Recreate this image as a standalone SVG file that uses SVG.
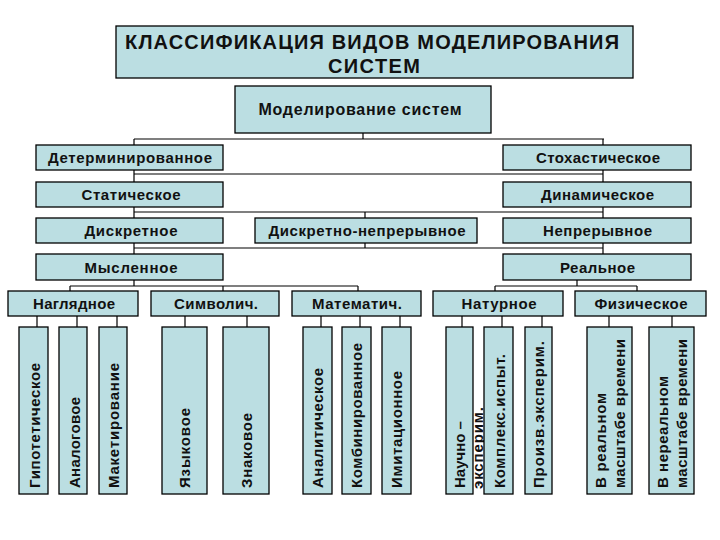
<svg xmlns="http://www.w3.org/2000/svg" width="720" height="540" viewBox="0 0 720 540">
<style>
.bg{fill:#ffffff}
.box{fill:#BBDEE2;stroke:#000;stroke-width:1.3}
.t{font-family:"Liberation Sans",Arial,sans-serif;font-weight:bold;font-size:15px;fill:#111;text-anchor:middle}
.v{font-family:"Liberation Sans",Arial,sans-serif;font-weight:bold;font-size:15px;fill:#111;text-anchor:start}
.ttl{font-size:20px}
.root{font-size:16px}
.conn path{fill:none;stroke:#000;stroke-width:1.2}
</style>
<rect class="bg" x="0" y="0" width="720" height="540"/>
<g class="conn" id="connectors">
<path d="M363,133V139M134,139H604M134,139V145M603,139V145"/>
<path d="M134,170V182M603,170V182M134,174H603"/>
<path d="M134,207V218M603,207V218M134,212H603M365,212V218"/>
<path d="M134,243V254M603,243V254M134,248H603M365,243V248"/>
<path d="M134,280V286M70,286H358M70,286V291M223,286V291M358,286V291"/>
<path d="M577,280V286M495,286H637M495,286V291M637,286V291"/>
<path d="M37,316V327M77,316V327M117,316V327M185,316V327M247,316V327M321,316V327M360,316V327M400,316V327M462,316V327M502,316V327M542,316V327M609,316V327M672,316V327"/>
</g>
<g id="title">
<rect class="box" x="116" y="26" width="517" height="52"/>
<text class="t ttl" x="372" y="49" textLength="494" lengthAdjust="spacing">КЛАССИФИКАЦИЯ ВИДОВ МОДЕЛИРОВАНИЯ</text>
<text class="t ttl" x="374" y="73" textLength="92" lengthAdjust="spacing">СИСТЕМ</text>
</g>
<g id="root">
<rect class="box" x="235" y="86" width="256" height="47"/>
<text class="t root" x="360" y="115" textLength="203" lengthAdjust="spacing">Моделирование систем</text>
</g>
<g id="det"><rect class="box" x="36" y="145" width="187" height="25"/><text class="t" x="130" y="163" textLength="164" lengthAdjust="spacing">Детерминированное</text></g>
<g id="stoch"><rect class="box" x="503" y="145" width="188" height="25"/><text class="t" x="598" y="163" textLength="124" lengthAdjust="spacing">Стохастическое</text></g>
<g id="static"><rect class="box" x="36" y="182" width="187" height="25"/><text class="t" x="131" y="200" textLength="99" lengthAdjust="spacing">Статическое</text></g>
<g id="dyn"><rect class="box" x="503" y="182" width="188" height="25"/><text class="t" x="597.5" y="200" textLength="113" lengthAdjust="spacing">Динамическое</text></g>
<g id="disc"><rect class="box" x="36" y="218" width="187" height="25"/><text class="t" x="131" y="236" textLength="93" lengthAdjust="spacing">Дискретное</text></g>
<g id="disccont"><rect class="box" x="255" y="218" width="222" height="25"/><text class="t" x="367" y="236" textLength="197" lengthAdjust="spacing">Дискретно-непрерывное</text></g>
<g id="cont"><rect class="box" x="503" y="218" width="188" height="25"/><text class="t" x="597.5" y="236" textLength="109" lengthAdjust="spacing">Непрерывное</text></g>
<g id="mental"><rect class="box" x="36" y="254" width="187" height="26"/><text class="t" x="131" y="272.5" textLength="93" lengthAdjust="spacing">Мысленное</text></g>
<g id="real"><rect class="box" x="503" y="254" width="188" height="26"/><text class="t" x="597.5" y="272.5" textLength="75" lengthAdjust="spacing">Реальное</text></g>
<g id="nagl"><rect class="box" x="8" y="291" width="130" height="25"/><text class="t" x="74" y="309" textLength="82" lengthAdjust="spacing">Наглядное</text></g>
<g id="symb"><rect class="box" x="151" y="291" width="128" height="25"/><text class="t" x="216" y="309" textLength="84" lengthAdjust="spacing">Символич.</text></g>
<g id="math"><rect class="box" x="292" y="291" width="129" height="25"/><text class="t" x="357" y="309" textLength="90" lengthAdjust="spacing">Математич.</text></g>
<g id="nat"><rect class="box" x="433" y="291" width="130" height="25"/><text class="t" x="499" y="309" textLength="75" lengthAdjust="spacing">Натурное</text></g>
<g id="phys"><rect class="box" x="575" y="291" width="131" height="25"/><text class="t" x="641" y="309" textLength="93" lengthAdjust="spacing">Физическое</text></g>
<g id="hyp"><rect class="box" x="19" y="327" width="29" height="167"/><text class="v" transform="translate(40,488) rotate(-90)" textLength="125" lengthAdjust="spacing">Гипотетическое</text></g>
<g id="anal"><rect class="box" x="59" y="327" width="28" height="167"/><text class="v" transform="translate(79.5,488) rotate(-90)" textLength="91" lengthAdjust="spacing">Аналоговое</text></g>
<g id="maket"><rect class="box" x="99" y="327" width="28" height="167"/><text class="v" transform="translate(119,488) rotate(-90)" textLength="125" lengthAdjust="spacing">Макетирование</text></g>
<g id="lang"><rect class="box" x="162" y="327" width="45" height="167"/><text class="v" transform="translate(190,488) rotate(-90)" textLength="80" lengthAdjust="spacing">Языковое</text></g>
<g id="sign"><rect class="box" x="223" y="327" width="46" height="167"/><text class="v" transform="translate(251.5,488) rotate(-90)" textLength="75" lengthAdjust="spacing">Знаковое</text></g>
<g id="analyt"><rect class="box" x="303" y="327" width="29" height="167"/><text class="v" transform="translate(323,488) rotate(-90)" textLength="120" lengthAdjust="spacing">Аналитическое</text></g>
<g id="comb"><rect class="box" x="342" y="327" width="29" height="167"/><text class="v" transform="translate(362,488) rotate(-90)" textLength="145" lengthAdjust="spacing">Комбинированное</text></g>
<g id="imit"><rect class="box" x="382" y="327" width="29" height="167"/><text class="v" transform="translate(402,488) rotate(-90)" textLength="117" lengthAdjust="spacing">Имитационное</text></g>
<g id="sciexp"><rect class="box" x="446" y="327" width="27" height="167"/><text class="v" transform="translate(465,488) rotate(-90)">Научно –</text><text class="v" transform="translate(482.5,489) rotate(-90)" textLength="82" lengthAdjust="spacing">эксперим.</text></g>
<g id="complex"><rect class="box" x="484" y="327" width="29" height="167"/><text class="v" transform="translate(505,488) rotate(-90)" textLength="134" lengthAdjust="spacing">Комплекс.испыт.</text></g>
<g id="prod"><rect class="box" x="525" y="327" width="27" height="167"/><text class="v" transform="translate(544,488) rotate(-90)" textLength="147" lengthAdjust="spacing">Произв.эксперим.</text></g>
<g id="realtime"><rect class="box" x="587" y="327" width="45" height="167"/><text class="v" transform="translate(606,488) rotate(-90)" textLength="95" lengthAdjust="spacing">В реальном</text><text class="v" transform="translate(625,488) rotate(-90)" textLength="149" lengthAdjust="spacing">масштабе времени</text></g>
<g id="nonrealtime"><rect class="box" x="649" y="327" width="45" height="167"/><text class="v" transform="translate(668,488) rotate(-90)" textLength="112" lengthAdjust="spacing">В нереальном</text><text class="v" transform="translate(687,488) rotate(-90)" textLength="149" lengthAdjust="spacing">масштабе времени</text></g>
</svg>
